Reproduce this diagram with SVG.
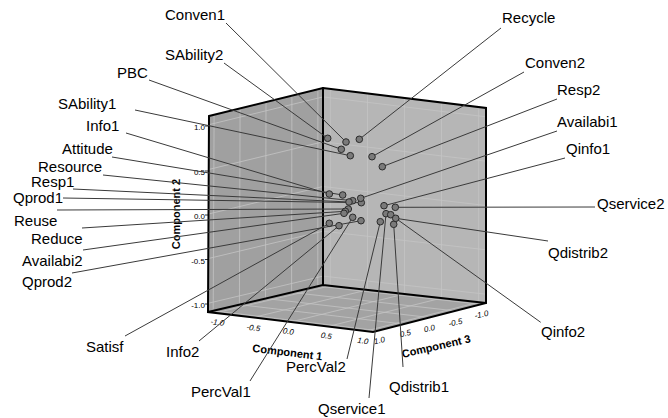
<svg xmlns="http://www.w3.org/2000/svg" width="668" height="418" viewBox="0 0 668 418">
<style>
.lbl{font-family:"Liberation Sans",Arial,sans-serif;font-size:15px;fill:#000}
.tick{font-family:"Liberation Sans",Arial,sans-serif;font-size:8px;fill:#000}
.tki{font-family:"Liberation Sans",Arial,sans-serif;font-size:8px;font-style:italic;fill:#000}
.axt{font-family:"Liberation Sans",Arial,sans-serif;font-size:11px;font-weight:bold;fill:#000}
.grid{stroke:#c4c4c4;stroke-width:0.8;fill:none}
.edge{stroke:#000;stroke-width:2;fill:none;stroke-linecap:round}
.ld{stroke:#3a3a3a;stroke-width:1;fill:none}
.pt{fill:#7a7a7a;stroke:#2a2a2a;stroke-width:1}
</style>
<rect width="668" height="418" fill="#fff"/>
<g id="cube">
<polygon points="209,116 323,88 323,285 208,312" fill="#a0a0a0"/>
<polygon points="323,88 486,108 486,303 323,285" fill="#b6b6b6"/>
<polygon points="208,312 323,285 486,303 373,332" fill="#a3a3a3"/>
<g class="grid">
<path d="M213.2,310.8L214.1,114.7M239.4,304.6L240.1,108.4M265.5,298.5L266,102M291.6,292.4L291.9,95.6M317.8,286.2L317.9,89.3"/>
<path d="M208.5,124.8L323,96.9M208.5,169.5L323,141.8M208.5,214L323,186.5M208.5,258.5L323,231.2M208.5,303.2L323,276.1"/>
<path d="M323,96.9L486,116.8M323,141.8L486,161.2M323,186.5L486,205.5M323,231.2L486,249.8M323,276.1L486,294.2"/>
<path d="M330.3,285.8L330.3,88.9M367.5,289.9L367.5,93.5M404.5,294L404.5,98M441.5,298.1L441.5,102.5M478.7,302.2L478.7,107.1"/>
<path d="M213.2,310.8L378.1,330.7M239.4,304.6L403.8,324.1M265.5,298.5L429.5,317.5M291.6,292.4L455.2,310.9M317.8,286.2L480.9,304.3"/>
<path d="M215.4,312.9L330.3,285.8M253,317.5L367.5,289.9M290.5,322L404.5,294M328,326.5L441.5,298.1M365.6,331.1L478.7,302.2"/>
</g>
<g class="edge">
<path d="M209,116L323,88L486,108L486,303L373,332L208,312Z"/>
<path d="M323,88L323,285M208,312L323,285L486,303"/>
</g>
</g>
<g id="axes">
<path d="M205,126L209,126M205,171L209,171M205,215L209,215M205,259.5L209,259.5M205,304L209,304" stroke="#000" stroke-width="0.8"/>
<text class="tick" x="205" y="130" text-anchor="end">1.0</text>
<text class="tick" x="205" y="175" text-anchor="end">0.5</text>
<text class="tick" x="205" y="219" text-anchor="end">0.0</text>
<text class="tick" x="205" y="263.5" text-anchor="end">-0.5</text>
<text class="tick" x="205" y="308" text-anchor="end">-1.0</text>
<text class="axt" transform="translate(180,214) rotate(-90)" text-anchor="middle">Component 2</text>
<text class="tki" transform="translate(217,325) rotate(8)" text-anchor="middle">-1.0</text>
<text class="tki" transform="translate(253,330.5) rotate(8)" text-anchor="middle">-0.5</text>
<text class="tki" transform="translate(288,334) rotate(8)" text-anchor="middle">0.0</text>
<text class="tki" transform="translate(326,338.5) rotate(8)" text-anchor="middle">0.5</text>
<text class="tki" transform="translate(362.5,343.5) rotate(8)" text-anchor="middle">1.0</text>
<text class="axt" transform="translate(287,356) rotate(7)" text-anchor="middle">Component 1</text>
<text class="tki" transform="translate(380,343) rotate(-12)" text-anchor="middle">1.0</text>
<text class="tki" transform="translate(406,336) rotate(-12)" text-anchor="middle">0.5</text>
<text class="tki" transform="translate(430,331) rotate(-12)" text-anchor="middle">0.0</text>
<text class="tki" transform="translate(456,325) rotate(-12)" text-anchor="middle">-0.5</text>
<text class="tki" transform="translate(482,317) rotate(-12)" text-anchor="middle">-1.0</text>
<text class="axt" transform="translate(437,350) rotate(-13)" text-anchor="middle">Component 3</text>
</g>
<g id="connectors" class="ld">
<path d="M226,23L346,142"/>
<path d="M224,63L327.7,138.3"/>
<path d="M149,80L341.3,149.3"/>
<path d="M135,110L350.3,155.7"/>
<path d="M126,133L329.3,194"/>
<path d="M112,157L342.7,195"/>
<path d="M103,175L352.7,200.7"/>
<path d="M73,189L349,202"/>
<path d="M63,198L361.3,202.7"/>
<path d="M57,210L348.3,209"/>
<path d="M82,228L345.3,211.3"/>
<path d="M83,250L344,213.3"/>
<path d="M72,273L361,220.7"/>
<path d="M125,336L329.3,223.3"/>
<path d="M199,341L339,225.7"/>
<path d="M250,381L352.7,217.3"/>
<path d="M347,359L380.3,221.7"/>
<path d="M369,398L386,213.7"/>
<path d="M403,367L393.7,224.3"/>
<path d="M540.7,322.3L390.7,214.7"/>
<path d="M548,241L395.7,218.3"/>
<path d="M595,207L395.3,207.3"/>
<path d="M565,158L384,205.7"/>
<path d="M557,131L360.7,198.3"/>
<path d="M557,99L382.3,166.7"/>
<path d="M524,72L372,156.7"/>
<path d="M501,28L359.3,139.3"/>
</g>
<g id="n-Conven1"><circle class="pt" cx="346" cy="142" r="3.3"/><text class="lbl" x="165" y="20">Conven1</text></g>
<g id="n-SAbility2"><circle class="pt" cx="327.7" cy="138.3" r="3.3"/><text class="lbl" x="165" y="60">SAbility2</text></g>
<g id="n-PBC"><circle class="pt" cx="341.3" cy="149.3" r="3.3"/><text class="lbl" x="117" y="78">PBC</text></g>
<g id="n-SAbility1"><circle class="pt" cx="350.3" cy="155.7" r="3.3"/><text class="lbl" x="58" y="109">SAbility1</text></g>
<g id="n-Info1"><circle class="pt" cx="329.3" cy="194" r="3.3"/><text class="lbl" x="86" y="131">Info1</text></g>
<g id="n-Attitude"><circle class="pt" cx="342.7" cy="195" r="3.3"/><text class="lbl" x="62" y="154">Attitude</text></g>
<g id="n-Resource"><circle class="pt" cx="352.7" cy="200.7" r="3.3"/><text class="lbl" x="38" y="172">Resource</text></g>
<g id="n-Resp1"><circle class="pt" cx="349" cy="202" r="3.3"/><text class="lbl" x="31" y="187">Resp1</text></g>
<g id="n-Qprod1"><circle class="pt" cx="361.3" cy="202.7" r="3.3"/><text class="lbl" x="13" y="203">Qprod1</text></g>
<g id="n-Reuse"><circle class="pt" cx="348.3" cy="209" r="3.3"/><text class="lbl" x="14" y="226">Reuse</text></g>
<g id="n-Reduce"><circle class="pt" cx="345.3" cy="211.3" r="3.3"/><text class="lbl" x="31" y="244">Reduce</text></g>
<g id="n-Availabi2"><circle class="pt" cx="344" cy="213.3" r="3.3"/><text class="lbl" x="22" y="266">Availabi2</text></g>
<g id="n-Qprod2"><circle class="pt" cx="361" cy="220.7" r="3.3"/><text class="lbl" x="22" y="287">Qprod2</text></g>
<g id="n-Satisf"><circle class="pt" cx="329.3" cy="223.3" r="3.3"/><text class="lbl" x="86" y="352">Satisf</text></g>
<g id="n-Info2"><circle class="pt" cx="339" cy="225.7" r="3.3"/><text class="lbl" x="166" y="357">Info2</text></g>
<g id="n-PercVal1"><circle class="pt" cx="352.7" cy="217.3" r="3.3"/><text class="lbl" x="191" y="397">PercVal1</text></g>
<g id="n-PercVal2"><circle class="pt" cx="380.3" cy="221.7" r="3.3"/><text class="lbl" x="286" y="372">PercVal2</text></g>
<g id="n-Qservice1"><circle class="pt" cx="386" cy="213.7" r="3.3"/><text class="lbl" x="318" y="414">Qservice1</text></g>
<g id="n-Qdistrib1"><circle class="pt" cx="393.7" cy="224.3" r="3.3"/><text class="lbl" x="389" y="392">Qdistrib1</text></g>
<g id="n-Qinfo2"><circle class="pt" cx="390.7" cy="214.7" r="3.3"/><text class="lbl" x="541" y="337">Qinfo2</text></g>
<g id="n-Qdistrib2"><circle class="pt" cx="395.7" cy="218.3" r="3.3"/><text class="lbl" x="548" y="258">Qdistrib2</text></g>
<g id="n-Qservice2"><circle class="pt" cx="395.3" cy="207.3" r="3.3"/><text class="lbl" x="597" y="209">Qservice2</text></g>
<g id="n-Qinfo1"><circle class="pt" cx="384" cy="205.7" r="3.3"/><text class="lbl" x="566" y="154">Qinfo1</text></g>
<g id="n-Availabi1"><circle class="pt" cx="360.7" cy="198.3" r="3.3"/><text class="lbl" x="557" y="127">Availabi1</text></g>
<g id="n-Resp2"><circle class="pt" cx="382.3" cy="166.7" r="3.3"/><text class="lbl" x="557" y="95">Resp2</text></g>
<g id="n-Conven2"><circle class="pt" cx="372" cy="156.7" r="3.3"/><text class="lbl" x="525" y="68">Conven2</text></g>
<g id="n-Recycle"><circle class="pt" cx="359.3" cy="139.3" r="3.3"/><text class="lbl" x="502" y="23">Recycle</text></g>
</svg>
